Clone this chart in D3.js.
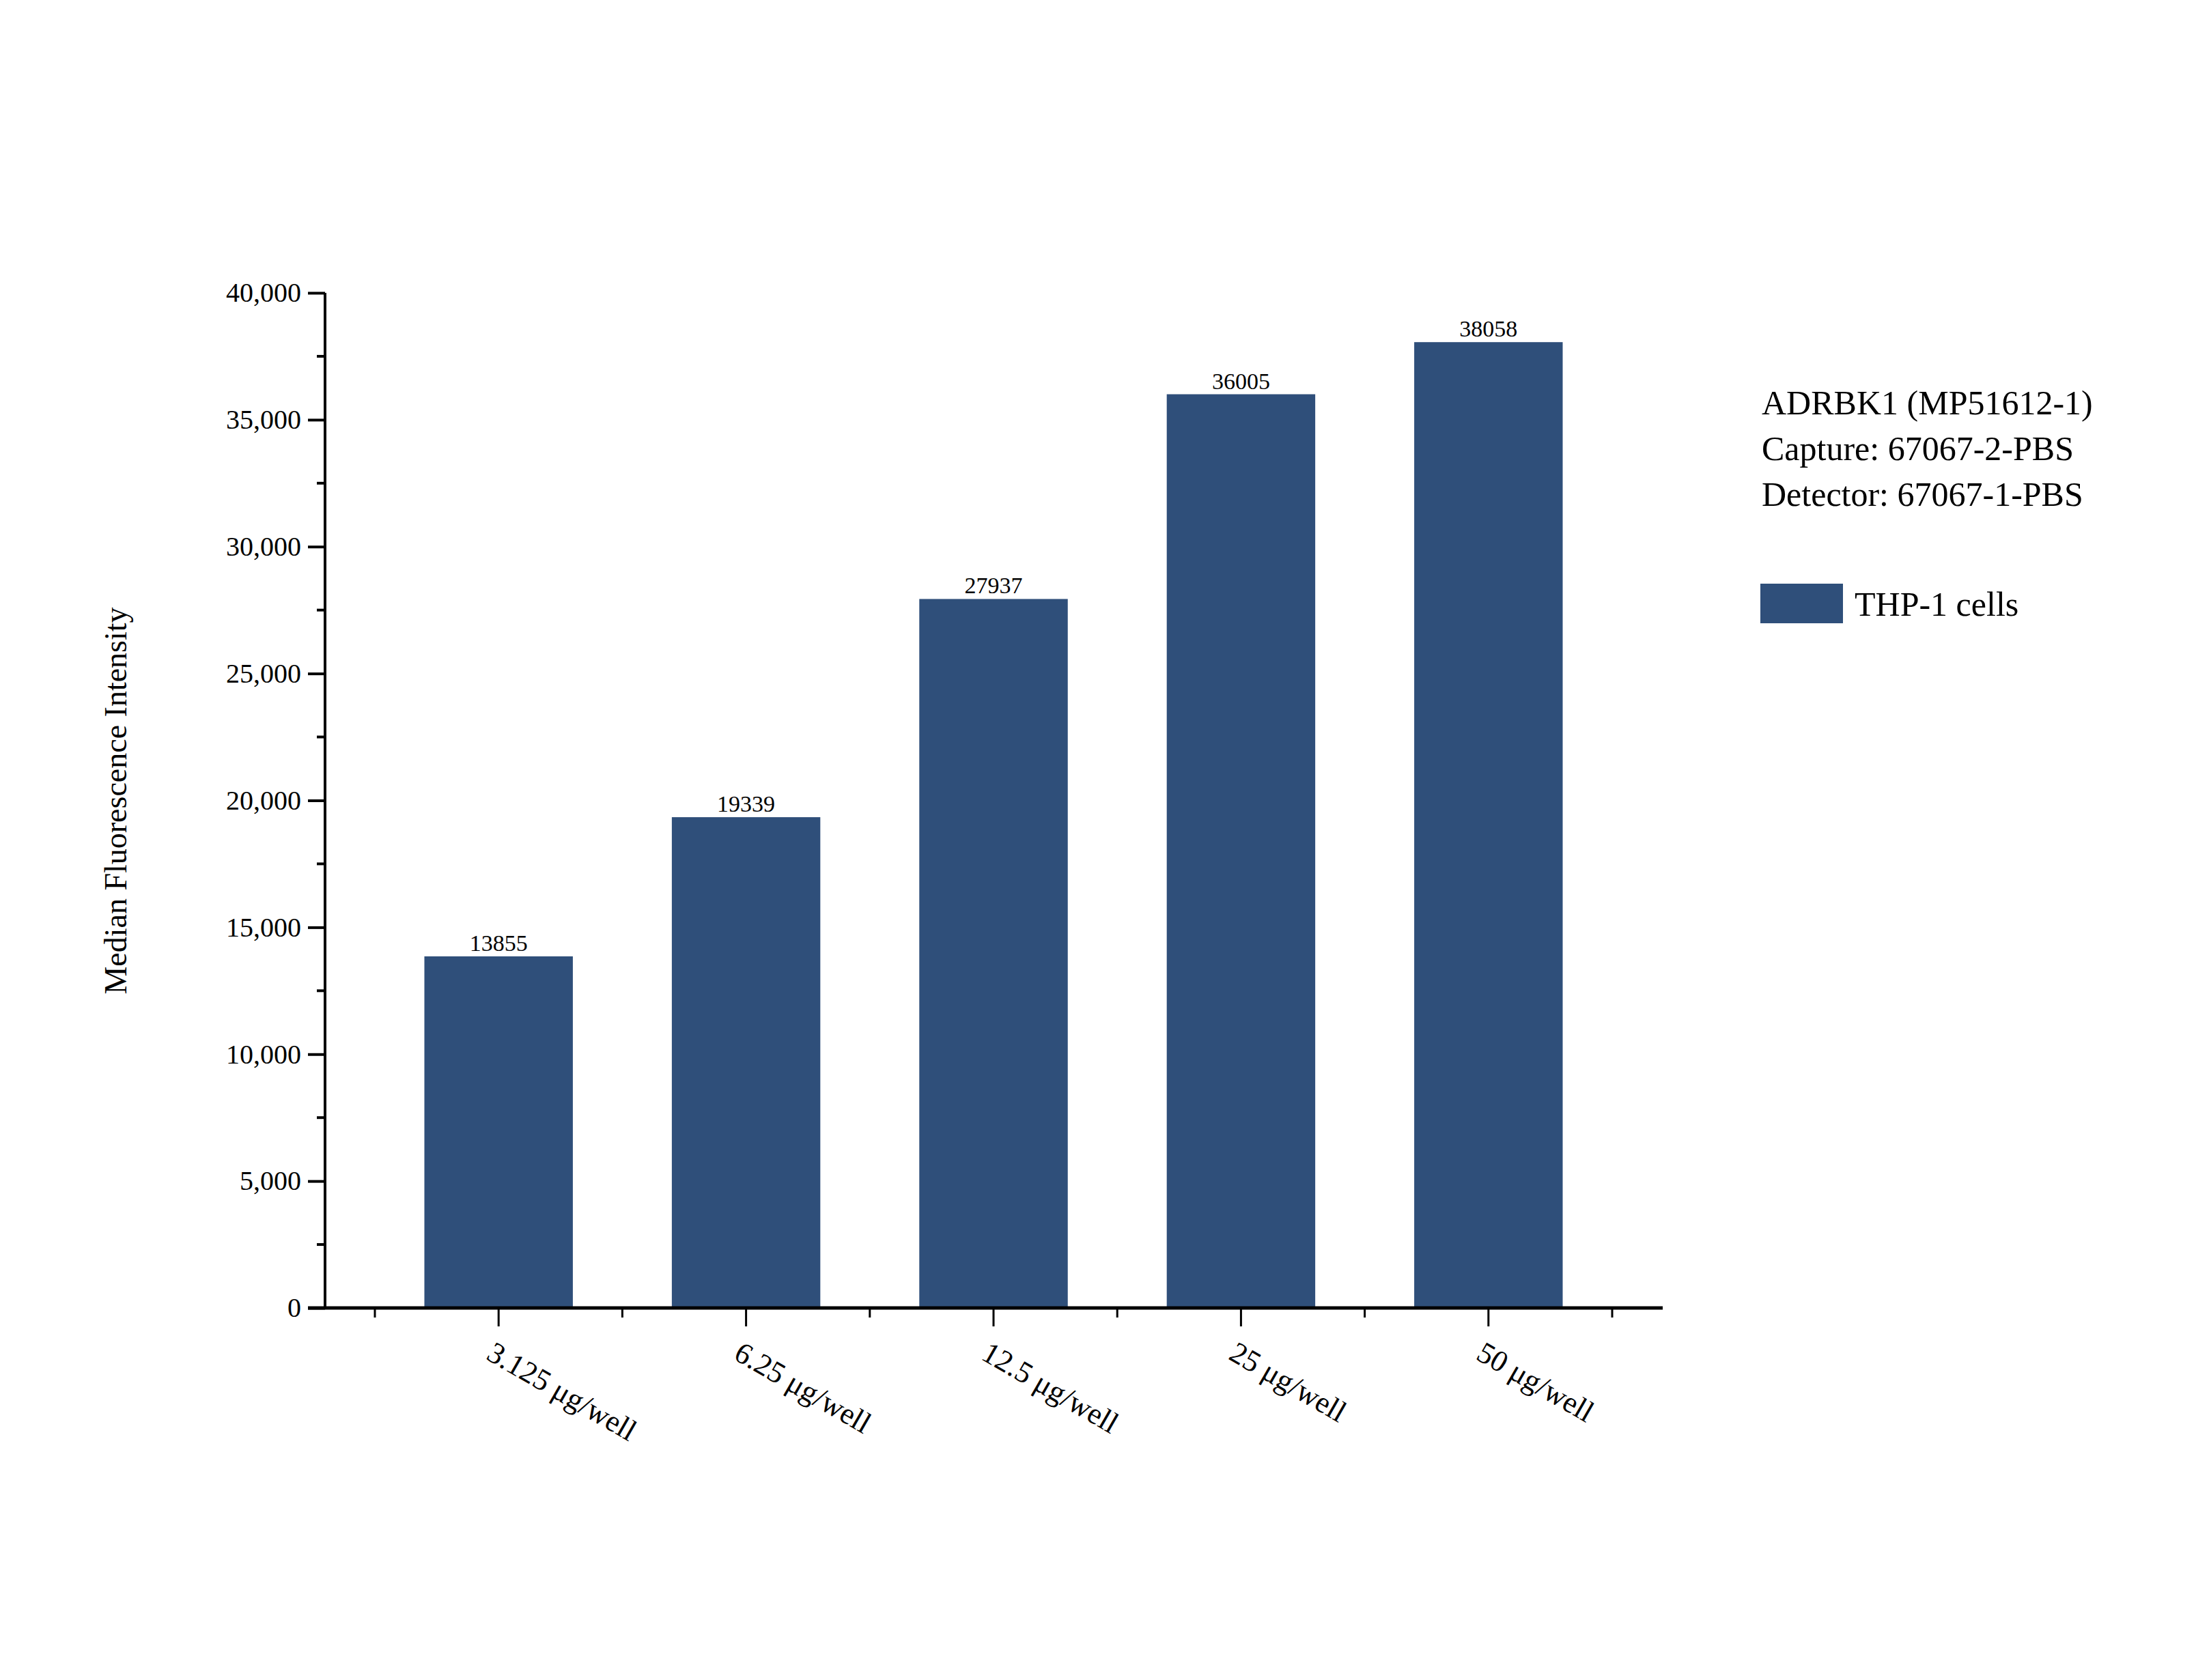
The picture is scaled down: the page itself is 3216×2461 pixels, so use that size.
<!DOCTYPE html>
<html><head><meta charset="utf-8">
<script src="https://cdn.jsdelivr.net/npm/d3@7"></script>
<style>body{margin:0;background:#fff}</style>
</head><body>
<svg id="chart" width="3216" height="2461"></svg>
<script>
const categories = ["3.125 μg/well", "6.25 μg/well", "12.5 μg/well", "25 μg/well", "50 μg/well"];
const values = [13855, 19339, 27937, 36005, 38058];
const yTicks = [0, 5000, 10000, 15000, 20000, 25000, 30000, 35000, 40000];
const infoLines = ["ADRBK1 (MP51612-1)", "Capture: 67067-2-PBS", "Detector: 67067-1-PBS"];
const seriesName = "THP-1 cells";

const font = "'Liberation Serif', 'Times New Roman', serif";
const barColor = "#2f4f7a";
const svg = d3.select("#chart");

const x = d3.scaleBand().domain(categories).range([549, 2361]).paddingInner(0.4).paddingOuter(0.2);
const y = d3.scaleLinear().domain([0, 40000]).range([1916, 429]);

// y axis
const yAxis = svg.append("g").attr("transform", "translate(476,0)")
  .call(d3.axisLeft(y).tickValues(yTicks).tickSize(25).tickPadding(10));
yAxis.select(".domain").attr("stroke-width", 4).attr("d", "M0,1916V429");
yAxis.selectAll(".tick line").attr("stroke-width", 4);
yAxis.selectAll("text").attr("font-family", font).attr("font-size", 40).attr("fill", "#000");
// minor y ticks
svg.append("g").selectAll("line")
  .data(d3.range(2500, 40000, 5000)).join("line")
  .attr("x1", 464).attr("x2", 476)
  .attr("y1", d => y(d)).attr("y2", d => y(d))
  .attr("stroke", "#000").attr("stroke-width", 4);

// bars
svg.append("g").selectAll("rect")
  .data(values).join("rect")
  .attr("x", (d, i) => x(categories[i]))
  .attr("y", d => y(d))
  .attr("width", x.bandwidth())
  .attr("height", d => y(0) - y(d))
  .attr("fill", barColor);
svg.append("g").selectAll("text")
  .data(values).join("text")
  .attr("x", (d, i) => x(categories[i]) + x.bandwidth() / 2)
  .attr("y", d => y(d) - 8)
  .attr("text-anchor", "middle")
  .attr("font-family", font).attr("font-size", 34)
  .text(d => d);

// x axis
svg.append("line").attr("x1", 451).attr("x2", 2435).attr("y1", 1916).attr("y2", 1916)
  .attr("stroke", "#000").attr("stroke-width", 5);
const step = x.step();
svg.append("g").selectAll("line")
  .data(d3.range(categories.length + 1)).join("line")
  .attr("x1", i => x(categories[0]) - (step - x.bandwidth()) / 2 + i * step)
  .attr("x2", i => x(categories[0]) - (step - x.bandwidth()) / 2 + i * step)
  .attr("y1", 1916).attr("y2", 1930)
  .attr("stroke", "#000").attr("stroke-width", 3);
svg.append("g").selectAll("line")
  .data(categories).join("line")
  .attr("x1", d => x(d) + x.bandwidth() / 2).attr("x2", d => x(d) + x.bandwidth() / 2)
  .attr("y1", 1916).attr("y2", 1943)
  .attr("stroke", "#000").attr("stroke-width", 3);
svg.append("g").selectAll("text")
  .data(categories).join("text")
  .attr("transform", d => `translate(${x(d) + x.bandwidth() / 2 - 20},${1990}) rotate(30)`)
  .attr("font-family", font).attr("font-size", 44)
  .text(d => d);

// y title
svg.append("text")
  .attr("transform", "translate(185,1173) rotate(-90)")
  .attr("text-anchor", "middle")
  .attr("font-family", font).attr("font-size", 46)
  .text("Median Fluorescence Intensity");

// legend / info
svg.append("g").selectAll("text")
  .data(infoLines).join("text")
  .attr("x", 2580).attr("y", (d, i) => 607 + i * 67)
  .attr("font-family", font).attr("font-size", 50)
  .text(d => d);
svg.append("rect").attr("x", 2578).attr("y", 855).attr("width", 121).attr("height", 58).attr("fill", barColor);
svg.append("text").attr("x", 2716).attr("y", 902)
  .attr("font-family", font).attr("font-size", 50).text(seriesName);
</script>
</body></html>
